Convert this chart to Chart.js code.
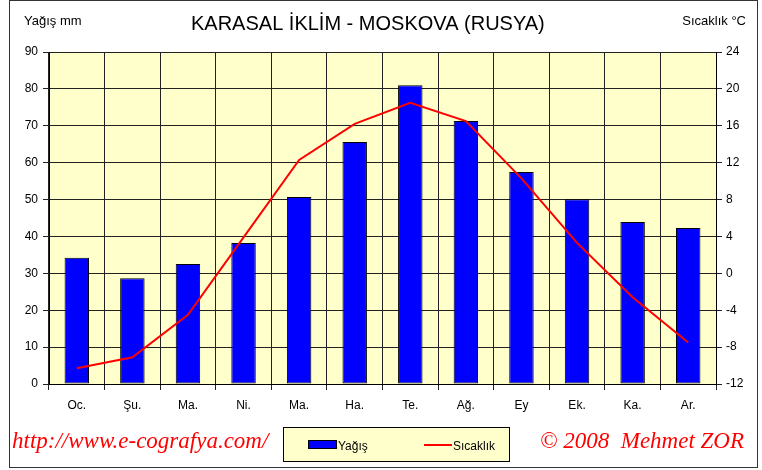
<!DOCTYPE html>
<html>
<head>
<meta charset="utf-8">
<script src="https://cdn.jsdelivr.net/npm/chart.js@4/dist/chart.umd.min.js"></script>
<style>
  html, body { margin: 0; padding: 0; background: #fff; }
  #wrap { width: 762px; height: 470px; position: relative; }
</style>
</head>
<body>
<div id="wrap"><canvas id="chart" width="762" height="470"></canvas></div>
<script>
// Data
const months = ['Oc.', 'Şu.', 'Ma.', 'Ni.', 'Ma.', 'Ha.', 'Te.', 'Ağ.', 'Ey', 'Ek.', 'Ka.', 'Ar.'];
const precipitation = [34.2, 28.7, 32.5, 38.2, 50.7, 65.6, 81.0, 71.3, 57.5, 50.1, 43.9, 42.3];
const temperature = [-10.3, -9.1, -4.5, 3.9, 12.3, 16.2, 18.5, 16.5, 10.3, 3.3, -2.6, -7.5];
const precipRange = [0, 90, 10];
const tempRange = [-12, 24, 4];

const FONT = '"Liberation Sans", Arial, sans-serif';
const SCRIPT = '"Liberation Serif", "DejaVu Serif", serif';

// Background, plot fill, frame, header and footer texts
const decor = {
    id: 'decor',
    beforeDraw(chart) {
        const { ctx, chartArea: a } = chart;
        ctx.save();
        ctx.fillStyle = '#ffffff';
        ctx.fillRect(0, 0, chart.width, chart.height);
        ctx.fillStyle = '#FFFFCC';
        ctx.fillRect(a.left, a.top, a.right - a.left, a.bottom - a.top);
        ctx.restore();
    },
    afterDraw(chart) {
        const ctx = chart.ctx;
        ctx.save();
        // outer frame
        ctx.strokeStyle = '#333';
        ctx.lineWidth = 1;
        ctx.strokeRect(9.5, 0.5, 748, 467);

        // title and axis captions
        ctx.fillStyle = '#000';
        ctx.textBaseline = 'alphabetic';
        ctx.font = '20px ' + FONT;
        ctx.textAlign = 'left';
        ctx.fillText('KARASAL İKLİM - MOSKOVA (RUSYA)', 191, 30);
        ctx.font = '13px ' + FONT;
        ctx.fillText('Yağış mm', 24, 25);
        ctx.textAlign = 'right';
        ctx.fillText('Sıcaklık °C', 746, 25);

        // legend box
        ctx.fillStyle = '#FFFFCC';
        ctx.fillRect(283.5, 427.5, 226, 34);
        ctx.strokeStyle = '#000';
        ctx.strokeRect(283.5, 427.5, 226, 34);
        ctx.fillStyle = '#0000FF';
        ctx.fillRect(308.5, 440.5, 28, 8);
        ctx.strokeRect(308.5, 440.5, 28, 8);
        ctx.strokeStyle = '#FF0000';
        ctx.lineWidth = 2;
        ctx.beginPath();
        ctx.moveTo(424, 445);
        ctx.lineTo(452, 445);
        ctx.stroke();
        ctx.fillStyle = '#000';
        ctx.textAlign = 'left';
        ctx.font = '12px ' + FONT;
        ctx.fillText('Yağış', 338, 450);
        ctx.fillText('Sıcaklık', 453, 450);

        // footer
        ctx.fillStyle = '#FF0000';
        ctx.font = 'italic 23px ' + SCRIPT;
        ctx.fillText('http://www.e-cografya.com/', 12, 448, 262);
        ctx.fillText('© 2008  Mehmet ZOR', 540, 448, 207);
        ctx.restore();
    }
};

const ctx = document.getElementById('chart');
new Chart(ctx, {
    type: 'bar',
    data: {
        labels: months,
        datasets: [
            {
                type: 'line',
                label: 'Sıcaklık',
                data: temperature,
                yAxisID: 'yTemp',
                borderColor: '#FF0000',
                borderWidth: 2,
                pointRadius: 0,
                tension: 0,
                order: 0
            },
            {
                type: 'bar',
                label: 'Yağış',
                data: precipitation,
                yAxisID: 'yPrecip',
                backgroundColor: '#0000FF',
                borderColor: '#000000',
                borderWidth: 1,
                borderSkipped: false,
                categoryPercentage: 1,
                barPercentage: 0.44,
                order: 1
            }
        ]
    },
    options: {
        responsive: false,
        animation: false,
        layout: { padding: { left: 10, right: 10, top: 52, bottom: 0 } },
        plugins: {
            legend: { display: false },
            tooltip: { enabled: false },
            title: { display: false }
        },
        scales: {
            x: {
                offset: true,
                grid: { offset: true, color: '#222', tickLength: 6, drawTicks: true },
                border: { color: '#000' },
                ticks: { color: '#000', font: { family: FONT, size: 12 }, padding: 8, maxRotation: 0 },
                afterFit(scale) { scale.height = 86; }
            },
            yPrecip: {
                position: 'left',
                min: precipRange[0],
                max: precipRange[1],
                grid: { color: '#222', tickLength: 6 },
                border: { color: '#000' },
                ticks: { stepSize: precipRange[2], color: '#000', font: { family: FONT, size: 12 }, padding: 5 },
                afterFit(scale) { scale.width = 39; }
            },
            yTemp: {
                position: 'right',
                min: tempRange[0],
                max: tempRange[1],
                grid: { drawOnChartArea: false, color: '#222', tickLength: 6 },
                border: { color: '#000' },
                ticks: { stepSize: tempRange[2], color: '#000', font: { family: FONT, size: 12 }, padding: 4 },
                afterFit(scale) { scale.width = 36; }
            }
        }
    },
    plugins: [decor]
});
</script>
</body>
</html>
